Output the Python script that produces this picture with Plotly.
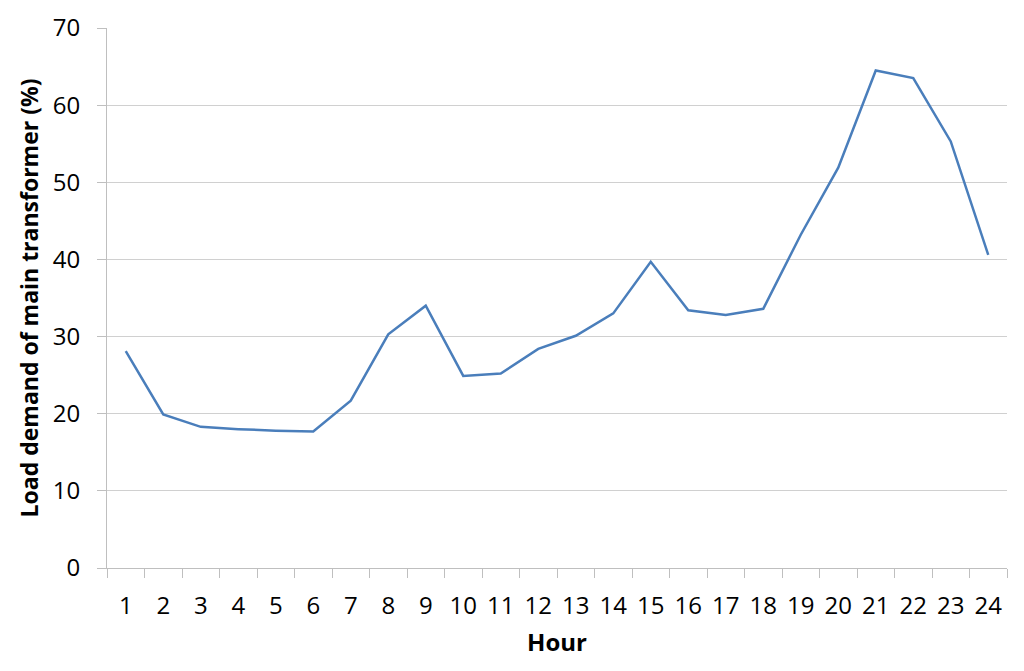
import plotly.graph_objects as go

hours = [str(h) for h in range(1, 25)]
load_pct = [28.1, 19.9, 18.3, 18.0, 17.8, 17.7, 21.7, 30.3, 34.0, 24.9, 25.2, 28.4,
            30.1, 33.0, 39.7, 33.4, 32.8, 33.6, 43.2, 51.9, 64.5, 63.5, 55.3, 40.6]
y_ticks = [0, 10, 20, 30, 40, 50, 60, 70]

fig = go.Figure(go.Scatter(
    x=hours, y=load_pct, mode="lines",
    line=dict(color="#4A7EBB", width=2.5),
))

tick_font = dict(family="Open Sans", size=24, color="#000000")
title_font = dict(family="Open Sans", size=24, color="#000000", weight="bold")
ytitle_font = dict(family="Open Sans", size=23, color="#000000", weight="bold")

# page body has an 8px default margin, so the figure is sized to fit inside it
fig.update_layout(
    width=1016, height=663,
    margin=dict(l=99, r=17, t=20, b=103),
    paper_bgcolor="white", plot_bgcolor="white",
    showlegend=False,
    xaxis=dict(
        type="category", tickson="boundaries", range=[-0.5, 23.5],
        ticks="outside", ticklen=9, tickcolor="#BFBFBF", tickwidth=1,
        showline=True, linecolor="#BFBFBF", linewidth=1,
        showgrid=False, tickfont=tick_font, ticklabelstandoff=16,
        title=dict(text="Hour", font=title_font, standoff=14),
        automargin=False,
    ),
    yaxis=dict(
        range=[0, 70], tickvals=y_ticks,
        ticks="outside", ticklen=9, tickcolor="#BFBFBF", tickwidth=1,
        showline=True, linecolor="#BFBFBF", linewidth=1,
        showgrid=True, gridcolor="#D0D0D0", gridwidth=1.2,
        zeroline=False, tickfont=tick_font, ticklabelstandoff=12,
        title=dict(text="Load demand of main transformer (%)", font=ytitle_font, standoff=7),
        automargin=False,
    ),
)

fig.write_html("out.html")
